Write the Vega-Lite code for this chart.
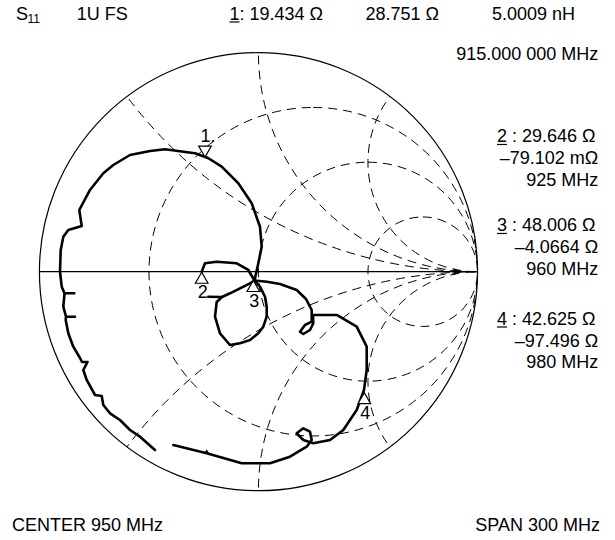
{
  "$schema": "https://vega.github.io/schema/vega-lite/v6.json",
  "width": 615,
  "height": 540,
  "autosize": {"type": "none"},
  "padding": 0,
  "background": "white",
  "config": {"view": {"stroke": null}, "font": "Liberation Sans"},
  "datasets": {
    "grid": [
      {"x": 0.25, "y": 0, "r": 0.75},
      {"x": 0.5, "y": 0, "r": 0.5},
      {"x": 0.75, "y": 0, "r": 0.25},
      {"x": 1, "y": 2, "r": 2},
      {"x": 1, "y": -2, "r": 2},
      {"x": 1, "y": 1, "r": 1},
      {"x": 1, "y": -1, "r": 1},
      {"x": 1, "y": 0.5, "r": 0.5},
      {"x": 1, "y": -0.5, "r": 0.5}
    ],
    "mask": [{"x": 0, "y": 0, "r": 3, "r2": 1}],
    "outer": [{"x": 0, "y": 0, "r": 1}],
    "rules": [
      {"x": -1, "x2": 1, "y": 0},
      {"x": -0.1324, "x2": -0.0868, "y": 1.1402},
      {"x": 1.089, "x2": 1.1347, "y": 0.5809},
      {"x": 1.089, "x2": 1.1347, "y": 0.1745},
      {"x": 1.089, "x2": 1.1347, "y": -0.2525}
    ],
    "trace": [
      {"seg": "A", "i": 1, "x": -0.4726, "y": -0.8142},
      {"seg": "A", "i": 2, "x": -0.5411, "y": -0.7534},
      {"seg": "A", "i": 3, "x": -0.5868, "y": -0.7228},
      {"seg": "A", "i": 4, "x": -0.6324, "y": -0.6772},
      {"seg": "A", "i": 5, "x": -0.6781, "y": -0.6466},
      {"seg": "A", "i": 6, "x": -0.7087, "y": -0.6087},
      {"seg": "A", "i": 7, "x": -0.716, "y": -0.5676},
      {"seg": "A", "i": 8, "x": -0.7466, "y": -0.563},
      {"seg": "A", "i": 9, "x": -0.7845, "y": -0.4945},
      {"seg": "A", "i": 10, "x": -0.8, "y": -0.4489},
      {"seg": "A", "i": 11, "x": -0.7808, "y": -0.4123},
      {"seg": "A", "i": 12, "x": -0.8059, "y": -0.4123},
      {"seg": "A", "i": 13, "x": -0.8151, "y": -0.3941},
      {"seg": "A", "i": 14, "x": -0.8457, "y": -0.3425},
      {"seg": "A", "i": 15, "x": -0.8685, "y": -0.2813},
      {"seg": "A", "i": 16, "x": -0.8804, "y": -0.2205},
      {"seg": "A", "i": 17, "x": -0.879, "y": -0.2055},
      {"seg": "A", "i": 18, "x": -0.8379, "y": -0.2055},
      {"seg": "A", "i": 19, "x": -0.879, "y": -0.2055},
      {"seg": "A", "i": 20, "x": -0.8913, "y": -0.1598},
      {"seg": "A", "i": 21, "x": -0.8858, "y": -0.0986},
      {"seg": "A", "i": 22, "x": -0.8411, "y": -0.0986},
      {"seg": "A", "i": 23, "x": -0.8858, "y": -0.0986},
      {"seg": "A", "i": 24, "x": -0.8986, "y": -0.0685},
      {"seg": "A", "i": 25, "x": -0.9064, "y": 0},
      {"seg": "A", "i": 26, "x": -0.9032, "y": 0.0991},
      {"seg": "A", "i": 27, "x": -0.8913, "y": 0.1598},
      {"seg": "A", "i": 28, "x": -0.8685, "y": 0.1904},
      {"seg": "A", "i": 29, "x": -0.8073, "y": 0.2087},
      {"seg": "A", "i": 30, "x": -0.8183, "y": 0.2817},
      {"seg": "A", "i": 31, "x": -0.7694, "y": 0.3731},
      {"seg": "A", "i": 32, "x": -0.7087, "y": 0.4493},
      {"seg": "A", "i": 33, "x": -0.663, "y": 0.4872},
      {"seg": "A", "i": 34, "x": -0.5868, "y": 0.5329},
      {"seg": "A", "i": 35, "x": -0.4954, "y": 0.5511},
      {"seg": "A", "i": 36, "x": -0.4269, "y": 0.5589},
      {"seg": "A", "i": 37, "x": -0.29, "y": 0.5406},
      {"seg": "A", "i": 38, "x": -0.2306, "y": 0.5192},
      {"seg": "A", "i": 39, "x": -0.168, "y": 0.4795},
      {"seg": "A", "i": 40, "x": -0.0922, "y": 0.4037},
      {"seg": "A", "i": 41, "x": -0.0311, "y": 0.3123},
      {"seg": "A", "i": 42, "x": 0.0068, "y": 0.2055},
      {"seg": "A", "i": 43, "x": 0.0146, "y": 0.1142},
      {"seg": "A", "i": 44, "x": -0.0009, "y": 0.0384},
      {"seg": "A", "i": 45, "x": -0.0183, "y": -0.0402},
      {"seg": "B", "i": 1, "x": -0.0183, "y": -0.0402},
      {"seg": "B", "i": 2, "x": -0.0466, "y": 0.0078},
      {"seg": "B", "i": 3, "x": -0.0995, "y": 0.0384},
      {"seg": "B", "i": 4, "x": -0.1909, "y": 0.0457},
      {"seg": "B", "i": 5, "x": -0.2443, "y": 0.0384},
      {"seg": "B", "i": 6, "x": -0.2594, "y": 0},
      {"seg": "C", "i": 1, "x": -0.0183, "y": -0.0402},
      {"seg": "C", "i": 2, "x": -0.0388, "y": -0.053},
      {"seg": "C", "i": 3, "x": -0.0845, "y": -0.0758},
      {"seg": "C", "i": 4, "x": -0.1301, "y": -0.0986},
      {"seg": "C", "i": 5, "x": -0.1667, "y": -0.1155},
      {"seg": "C", "i": 6, "x": -0.1909, "y": -0.1384},
      {"seg": "C", "i": 7, "x": -0.1986, "y": -0.2055},
      {"seg": "C", "i": 8, "x": -0.1758, "y": -0.2813},
      {"seg": "C", "i": 9, "x": -0.1301, "y": -0.3347},
      {"seg": "C", "i": 10, "x": -0.0845, "y": -0.3269},
      {"seg": "C", "i": 11, "x": -0.0388, "y": -0.3119},
      {"seg": "C", "i": 12, "x": -0.0009, "y": -0.2813},
      {"seg": "C", "i": 13, "x": 0.0219, "y": -0.2511},
      {"seg": "C", "i": 14, "x": 0.0374, "y": -0.2055},
      {"seg": "C", "i": 15, "x": 0.0374, "y": -0.1598},
      {"seg": "C", "i": 16, "x": 0.0297, "y": -0.1142},
      {"seg": "C", "i": 17, "x": 0.0068, "y": -0.0685},
      {"seg": "C", "i": 18, "x": -0.0183, "y": -0.0402},
      {"seg": "D", "i": 1, "x": -0.2292, "y": -0.1142},
      {"seg": "D", "i": 2, "x": -0.1667, "y": -0.1155},
      {"seg": "E", "i": 1, "x": -0.0183, "y": -0.0402},
      {"seg": "E", "i": 2, "x": 0.0388, "y": -0.0457},
      {"seg": "E", "i": 3, "x": 0.0982, "y": -0.0562},
      {"seg": "E", "i": 4, "x": 0.1744, "y": -0.0836},
      {"seg": "E", "i": 5, "x": 0.2169, "y": -0.1247},
      {"seg": "E", "i": 6, "x": 0.2429, "y": -0.1749},
      {"seg": "E", "i": 7, "x": 0.2429, "y": -0.2283},
      {"seg": "E", "i": 8, "x": 0.2123, "y": -0.2434},
      {"seg": "E", "i": 9, "x": 0.1895, "y": -0.274},
      {"seg": "E", "i": 10, "x": 0.2046, "y": -0.2845},
      {"seg": "E", "i": 11, "x": 0.2352, "y": -0.2662},
      {"seg": "E", "i": 12, "x": 0.2502, "y": -0.2356},
      {"seg": "E", "i": 13, "x": 0.2489, "y": -0.1977},
      {"seg": "E", "i": 14, "x": 0.3571, "y": -0.1977},
      {"seg": "E", "i": 15, "x": 0.4484, "y": -0.2511},
      {"seg": "E", "i": 16, "x": 0.4941, "y": -0.3425},
      {"seg": "E", "i": 17, "x": 0.4941, "y": -0.4489},
      {"seg": "E", "i": 18, "x": 0.4817, "y": -0.5402},
      {"seg": "E", "i": 19, "x": 0.4484, "y": -0.6315},
      {"seg": "E", "i": 20, "x": 0.3872, "y": -0.7228},
      {"seg": "E", "i": 21, "x": 0.3265, "y": -0.7685},
      {"seg": "E", "i": 22, "x": 0.2502, "y": -0.7836},
      {"seg": "E", "i": 23, "x": 0.2046, "y": -0.7685},
      {"seg": "E", "i": 24, "x": 0.1744, "y": -0.7379},
      {"seg": "E", "i": 25, "x": 0.2046, "y": -0.7151},
      {"seg": "E", "i": 26, "x": 0.2352, "y": -0.7306},
      {"seg": "E", "i": 27, "x": 0.2429, "y": -0.7685},
      {"seg": "E", "i": 28, "x": 0.2201, "y": -0.7991},
      {"seg": "E", "i": 29, "x": 0.1438, "y": -0.8447},
      {"seg": "E", "i": 30, "x": 0.0525, "y": -0.8749},
      {"seg": "E", "i": 31, "x": -0.0767, "y": -0.8749},
      {"seg": "E", "i": 32, "x": -0.2365, "y": -0.8292},
      {"seg": "E", "i": 33, "x": -0.389, "y": -0.7913}
    ],
    "markers": [
      {"x": -0.2443, "y": 0.5237, "label": "1.", "dir": "down"},
      {"x": -0.2594, "y": -0.0027, "label": "2", "dir": "up"},
      {"x": -0.0237, "y": -0.0402, "label": "3", "dir": "up"},
      {"x": 0.4831, "y": -0.5525, "label": "4", "dir": "up"}
    ],
    "syms": [
      {"x": 0.9064, "y": 0, "shape": "triangle-right", "s": 50},
      {"x": -0.2365, "y": -0.8219, "shape": "triangle-up", "s": 30}
    ],
    "texts": [
      {"x": -1.1073, "y": 1.1493, "text": "S", "size": 18, "align": "left"},
      {"x": -1.0548, "y": 1.1356, "text": "11", "size": 12, "align": "left"},
      {"x": -0.8297, "y": 1.1493, "text": "1U FS", "size": 18, "align": "left"},
      {"x": -0.1324, "y": 1.1493, "text": "1: 19.434 Ω", "size": 18, "align": "left"},
      {"x": 0.4881, "y": 1.1493, "text": "28.751 Ω", "size": 18, "align": "left"},
      {"x": 1.0662, "y": 1.1493, "text": "5.0009 nH", "size": 18, "align": "left"},
      {"x": 1.089, "y": 0.59, "text": "2 : 29.646 Ω", "size": 18, "align": "left"},
      {"x": 1.089, "y": 0.1836, "text": "3 : 48.006 Ω", "size": 18, "align": "left"},
      {"x": 1.089, "y": -0.2434, "text": "4 : 42.625 Ω", "size": 18, "align": "left"},
      {"x": -1.1256, "y": -1.184, "text": "CENTER 950 MHz", "size": 18, "align": "left"},
      {"x": 1.5516, "y": 0.9667, "text": "915.000 000 MHz", "size": 18, "align": "right"},
      {"x": 1.5516, "y": 0.4909, "text": "–79.102 mΩ", "size": 18, "align": "right"},
      {"x": 1.5516, "y": 0.3918, "text": "925 MHz", "size": 18, "align": "right"},
      {"x": 1.5516, "y": 0.0845, "text": "–4.0664 Ω", "size": 18, "align": "right"},
      {"x": 1.5516, "y": -0.0146, "text": "960 MHz", "size": 18, "align": "right"},
      {"x": 1.5516, "y": -0.3425, "text": "–97.496 Ω", "size": 18, "align": "right"},
      {"x": 1.5516, "y": -0.4416, "text": "980 MHz", "size": 18, "align": "right"},
      {"x": 1.5594, "y": -1.184, "text": "SPAN 300 MHz", "size": 18, "align": "right"}
    ]
  },
  "encoding": {
    "x": {"field": "x", "type": "quantitative", "scale": {"domain": [-1.1804, 1.6279], "nice": false, "zero": false}, "axis": null},
    "y": {"field": "y", "type": "quantitative", "scale": {"domain": [-1.2251, 1.2406], "nice": false, "zero": false}, "axis": null}
  },
  "layer": [
    {
      "data": {"name": "grid"},
      "mark": {"type": "arc", "filled": false, "stroke": "black", "strokeWidth": 1, "strokeDash": [9, 6], "theta": 0, "theta2": 6.2832, "clip": true},
      "encoding": {"radius": {"field": "r", "type": "quantitative", "stack": null, "scale": {"type": "linear", "domain": [0, 1], "range": [0, 219], "zero": true}}}
    },
    {
      "data": {"name": "mask"},
      "mark": {"type": "arc", "fill": "white", "strokeWidth": 0, "theta": 0, "theta2": 6.2832, "clip": true},
      "encoding": {
        "radius": {"field": "r", "type": "quantitative", "stack": null, "scale": {"type": "linear", "domain": [0, 1], "range": [0, 219], "zero": true}},
        "radius2": {"field": "r2"}
      }
    },
    {
      "data": {"name": "outer"},
      "mark": {"type": "arc", "filled": false, "stroke": "black", "strokeWidth": 1.2, "theta": 0, "theta2": 6.2832},
      "encoding": {"radius": {"field": "r", "type": "quantitative", "stack": null, "scale": {"type": "linear", "domain": [0, 1], "range": [0, 219], "zero": true}}}
    },
    {
      "data": {"name": "rules"},
      "mark": {"type": "rule", "stroke": "black", "strokeWidth": 1.2},
      "encoding": {"x2": {"field": "x2"}}
    },
    {
      "data": {"name": "trace"},
      "mark": {"type": "line", "stroke": "black", "strokeWidth": 2.6, "strokeJoin": "round", "strokeCap": "round"},
      "encoding": {"detail": {"field": "seg", "type": "nominal"}, "order": {"field": "i", "type": "quantitative"}}
    },
    {
      "data": {"name": "syms"},
      "mark": {"type": "point", "filled": true, "color": "black", "opacity": 1},
      "encoding": {
        "shape": {"field": "shape", "type": "nominal", "scale": null},
        "size": {"field": "s", "type": "quantitative", "scale": null}
      }
    },
    {
      "data": {"name": "markers"},
      "transform": [{"filter": "datum.dir === 'down'"}],
      "mark": {"type": "point", "shape": "triangle-down", "size": 160, "fill": "white", "stroke": "black", "strokeWidth": 1.2, "opacity": 1, "fillOpacity": 1, "filled": true, "yOffset": -5.5}
    },
    {
      "data": {"name": "markers"},
      "transform": [{"filter": "datum.dir === 'up'"}],
      "mark": {"type": "point", "shape": "triangle-up", "size": 160, "fill": "white", "stroke": "black", "strokeWidth": 1.2, "opacity": 1, "fillOpacity": 1, "filled": true, "yOffset": 5.5}
    },
    {
      "data": {"name": "markers"},
      "transform": [{"filter": "datum.dir === 'down'"}],
      "mark": {"type": "text", "fontSize": 18, "dy": -20, "dx": 3, "color": "black", "baseline": "middle"},
      "encoding": {"text": {"field": "label"}}
    },
    {
      "data": {"name": "markers"},
      "transform": [{"filter": "datum.dir === 'up'"}],
      "mark": {"type": "text", "fontSize": 18, "dy": 21, "dx": 1, "color": "black", "baseline": "middle"},
      "encoding": {"text": {"field": "label"}}
    },
    {
      "data": {"name": "texts"},
      "transform": [{"filter": "datum.align === 'left'"}],
      "mark": {"type": "text", "align": "left", "baseline": "alphabetic", "color": "black"},
      "encoding": {"text": {"field": "text"}, "size": {"field": "size", "type": "quantitative", "scale": null}}
    },
    {
      "data": {"name": "texts"},
      "transform": [{"filter": "datum.align === 'right'"}],
      "mark": {"type": "text", "align": "right", "baseline": "alphabetic", "color": "black"},
      "encoding": {"text": {"field": "text"}, "size": {"field": "size", "type": "quantitative", "scale": null}}
    }
  ]
}
